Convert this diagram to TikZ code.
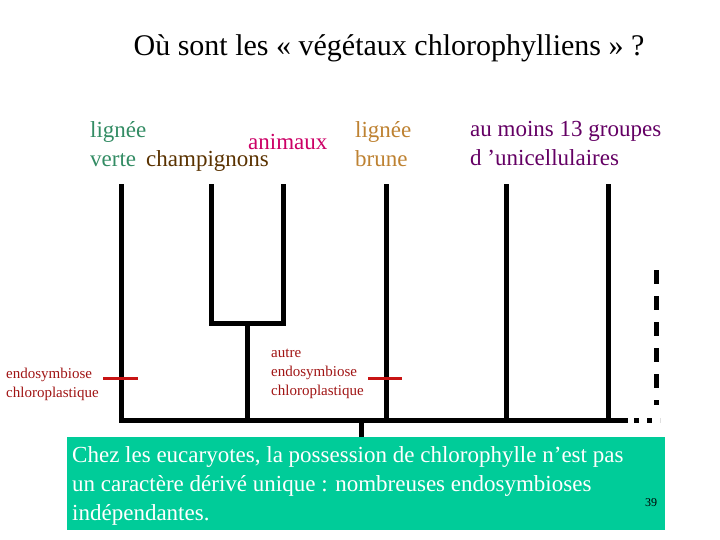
\documentclass[tikz,border=0pt]{standalone}
\usepackage{fontspec}
\setmainfont{Liberation Serif}
\begin{document}
\begin{tikzpicture}[x=1pt,y=-1pt,
  br/.style={line width=5pt,line cap=rect},
  tick/.style={line width=3pt,draw={rgb,255:red,200;green,20;blue,20}},
  lab/.style={anchor=north west,inner sep=0pt,font=\fontsize{23}{29}\selectfont,align=left},
  small/.style={anchor=west,inner sep=0pt,font=\fontsize{15}{19}\selectfont,text={rgb,255:red,160;green,20;blue,20},align=left}]
\useasboundingbox (0,0) rectangle (720,540);
\node[anchor=center,font=\fontsize{30}{34}\selectfont] (title) at (389,48) {Où sont les « végétaux chlorophylliens » ?};
\node[lab,text={rgb,255:red,51;green,140;blue,100}] (verte) at (90,121) {lignée\\verte};
\node[lab,text={rgb,255:red,90;green,50;blue,0}] (champ) at (146,150) {champignons};
\node[lab,text={rgb,255:red,204;green,0;blue,102}] (anim) at (248,134) {animaux};
\node[lab,text={rgb,255:red,190;green,130;blue,50}] (brune) at (355,121) {lignée\\brune};
\node[lab,text={rgb,255:red,100;green,0;blue,100}] (unic) at (470,121) {au moins 13 groupes\\d ’unicellulaires};
\coordinate (a1) at (121,187); \coordinate (a2) at (211,187); \coordinate (a3) at (283,187);
\coordinate (a4) at (386,187); \coordinate (a5) at (506,187); \coordinate (a6) at (608,187);
\coordinate (j) at (247,323);
\coordinate (b1) at (121,420); \coordinate (bj) at (247,420); \coordinate (b4) at (386,420);
\coordinate (b5) at (506,420); \coordinate (b6) at (608,420); \coordinate (bend) at (625,420);
\coordinate (root) at (361,420); \coordinate (rootb) at (361,438);
\draw[br] (a1) -- (b1) -- (bend);
\draw[br] (a2) |- (j) -| (a3);
\draw[br] (j) -- (bj);
\draw[br] (a4) -- (b4);
\draw[br] (a5) -- (b5);
\draw[br] (a6) -- (b6);
\draw[br,line cap=butt] (root) -- (rootb);
\draw[line width=5pt,dash pattern=on 5pt off 8pt] (634,420) -- (660,420);
\draw[line width=5pt,dash pattern=on 14pt off 12pt] (656,270) -- (656,405);
\draw[tick] (103,378) -- (138,378);
\draw[tick] (368,378) -- (402,378);
\node[small] (e1) at (6,384) {endosymbiose\\chloroplastique};
\node[small] (e2) at (271,374) {autre\\endosymbiose\\chloroplastique};
\node[fill={rgb,255:red,0;green,204;blue,153},minimum width=598,minimum height=93,anchor=north west,inner sep=0pt] (box) at (67,437) {};
\node[anchor=north west,text=white,font=\fontsize{23}{29}\selectfont,align=left,inner sep=0pt] (msg) at (72,446) {Chez les eucaryotes, la possession de chlorophylle n’est pas\\un caractère dérivé unique : nombreuses endosymbioses\\indépendantes.};
\node[font=\fontsize{12}{12}\selectfont,inner sep=0pt] (num) at (651,503) {39};
\end{tikzpicture}
\end{document}
